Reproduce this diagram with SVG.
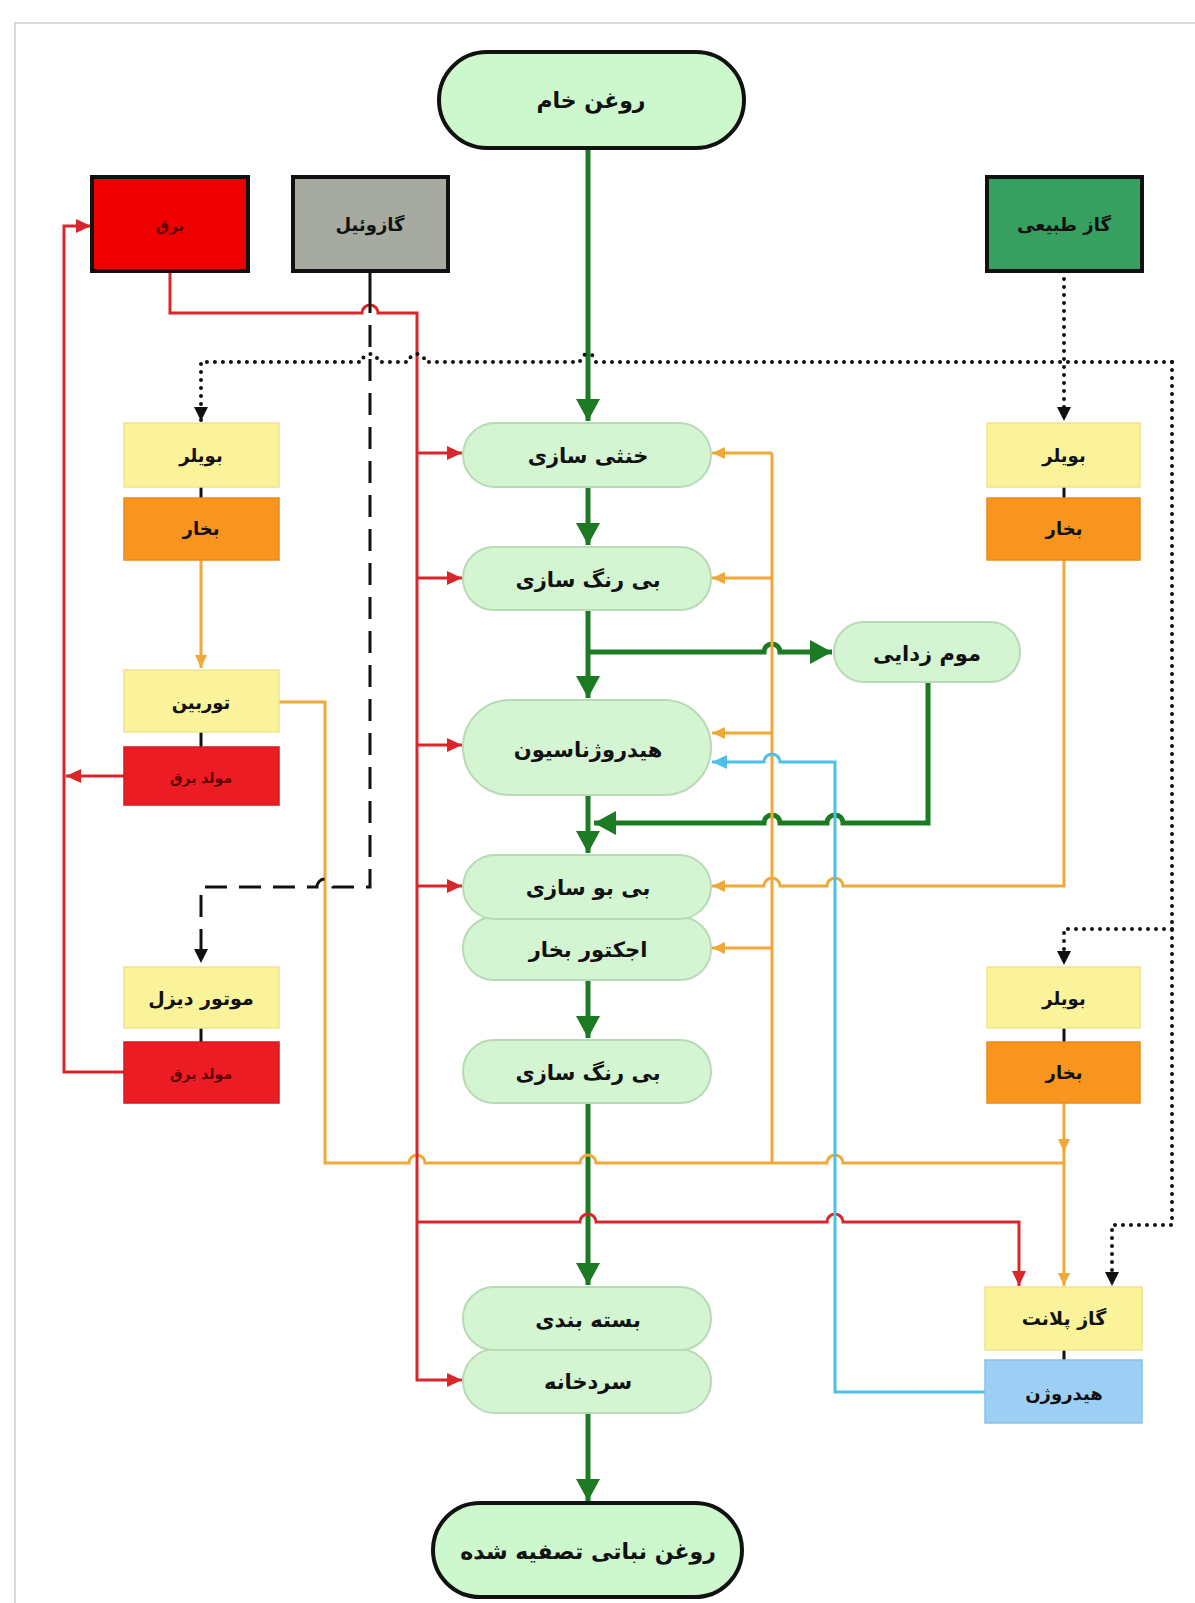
<svg xmlns="http://www.w3.org/2000/svg" width="1195" height="1603" viewBox="0 0 1195 1603">
<style>
  .t { font-family: "DejaVu Sans", "Noto Sans", sans-serif; font-weight: bold; text-anchor: middle; dominant-baseline: central; fill: #111; }
  .pill { fill: #d3f5d1; stroke: #b9d9b7; stroke-width: 2; }
  .term { fill: #cdf7cc; stroke: #111; stroke-width: 4; }
  .yel { fill: #fbf39a; stroke: #efe48e; stroke-width: 1.5; }
  .org { fill: #f7951e; stroke: #eb8a16; stroke-width: 1.5; }
  .red { fill: #ec1c24; stroke: #d41a20; stroke-width: 1.5; }
  .blu { fill: #9dcff4; stroke: #8cc0e8; stroke-width: 1.5; }
  .g { fill: none; stroke: #1c7a22; stroke-width: 5; }
  .o { fill: none; stroke: #f0a838; stroke-width: 3; }
  .r { fill: none; stroke: #d8262b; stroke-width: 3; }
  .b { fill: none; stroke: #4cc0e6; stroke-width: 3; }
  .k { fill: none; stroke: #111; stroke-width: 3; }
  .kd { fill: none; stroke: #111; stroke-width: 3; stroke-dasharray: 22 12; }
  .kt { fill: none; stroke: #111; stroke-width: 4; stroke-dasharray: 0 8; stroke-linecap: round; }
</style>
<defs>
  <marker id="ag" markerUnits="userSpaceOnUse" markerWidth="26" markerHeight="26" refX="22" refY="12" orient="auto"><path d="M0,0 L22,12 L0,24 z" fill="#1c7a22"/></marker>
  <marker id="ar" markerUnits="userSpaceOnUse" markerWidth="18" markerHeight="16" refX="15" refY="7" orient="auto"><path d="M0,0 L15,7 L0,14 z" fill="#d8262b"/></marker>
  <marker id="ao" markerUnits="userSpaceOnUse" markerWidth="16" markerHeight="14" refX="13" refY="6" orient="auto"><path d="M0,0 L13,6 L0,12 z" fill="#f0a838"/></marker>
  <marker id="ab" markerUnits="userSpaceOnUse" markerWidth="18" markerHeight="16" refX="15" refY="7" orient="auto"><path d="M0,0 L15,7 L0,14 z" fill="#4cc0e6"/></marker>
  <marker id="ak" markerUnits="userSpaceOnUse" markerWidth="18" markerHeight="16" refX="14" refY="7" orient="auto"><path d="M0,0 L14,7 L0,14 z" fill="#111"/></marker>
</defs>
<rect width="1195" height="1603" fill="#ffffff"/>
<path d="M15,1603 V23 H1195" fill="none" stroke="#d9d9d9" stroke-width="2"/>

<g id="connectors">
  <!-- green main flow -->
  <path class="g" d="M588,148 V421" marker-end="url(#ag)"/>
  <path class="g" d="M588,487 V545" marker-end="url(#ag)"/>
  <path class="g" d="M588,610 V698" marker-end="url(#ag)"/>
  <path class="g" d="M588,652 H764 A8 8 0 0 1 780,652 H832" marker-end="url(#ag)"/>
  <path class="g" d="M588,795 V853" marker-end="url(#ag)"/>
  <path class="g" d="M928,682 V823 H843 A8 8 0 0 0 827,823 H780 A8 8 0 0 0 764,823 H594" marker-end="url(#ag)"/>
  <path class="g" d="M588,980 V1038" marker-end="url(#ag)"/>
  <path class="g" d="M588,1103 V1285" marker-end="url(#ag)"/>
  <path class="g" d="M588,1413 V1501" marker-end="url(#ag)"/>

  <!-- orange steam -->
  <path class="o" d="M772,453 V1163"/>
  <path class="o" d="M772,453 H712" marker-end="url(#ao)"/>
  <path class="o" d="M772,578 H712" marker-end="url(#ao)"/>
  <path class="o" d="M772,733 H712" marker-end="url(#ao)"/>
  <path class="o" d="M772,948 H712" marker-end="url(#ao)"/>
  <path class="o" d="M1064,560 V886 H843 A8 8 0 0 0 827,886 H780 A8 8 0 0 0 764,886 H712" marker-end="url(#ao)"/>
  <path class="o" d="M201,560 V668" marker-end="url(#ao)"/>
  <path class="o" d="M279,702 H325 V1163 H409 A8 8 0 0 1 425,1163 H580 A8 8 0 0 1 596,1163 H827 A8 8 0 0 1 843,1163 H1064"/>
  <path class="o" d="M1064,1103 V1152" marker-end="url(#ao)"/>
  <path class="o" d="M1064,1150 V1286" marker-end="url(#ao)"/>

  <!-- red electricity -->
  <path class="r" d="M170,271 V313 H362 A8 8 0 0 1 378,313 H417 V1380 H462" marker-end="url(#ar)"/>
  <path class="r" d="M417,453 H462" marker-end="url(#ar)"/>
  <path class="r" d="M417,578 H462" marker-end="url(#ar)"/>
  <path class="r" d="M417,745 H462" marker-end="url(#ar)"/>
  <path class="r" d="M417,886 H462" marker-end="url(#ar)"/>
  <path class="r" d="M417,1222 H580 A8 8 0 0 1 596,1222 H827 A8 8 0 0 1 843,1222 H1019 V1286" marker-end="url(#ar)"/>
  <path class="r" d="M124,1072 H64 V226 H91" marker-end="url(#ar)"/>
  <path class="r" d="M124,776 H66" marker-end="url(#ar)"/>

  <!-- gasoil dashed -->
  <path class="k" d="M370,271 V313"/>
  <path class="kd" d="M370,325 V887 H333 A8 8 0 0 0 317,887 H201 V963" marker-end="url(#ak)"/>

  <!-- natural gas dotted -->
  <path class="kt" d="M1064,271 V421" marker-end="url(#ak)"/>
  <path class="kt" d="M1172,362 H596 A8 8 0 0 0 580,362 H425 A8 8 0 0 0 409,362 H378 A8 8 0 0 0 362,362 H201 V421" marker-end="url(#ak)"/>
  <path class="kt" d="M1172,362 V1225 H1112 V1286" marker-end="url(#ak)"/>
  <path class="kt" d="M1172,929 H1064 V965" marker-end="url(#ak)"/>

  <!-- hydrogen -->
  <path class="b" d="M985,1392 H835 V762 H780 A8 8 0 0 0 764,762 H712" marker-end="url(#ab)"/>

  <!-- stack links -->
  <path class="k" d="M201,487 V498 M201,732 V747 M201,1028 V1042 M1064,487 V498 M1064,1028 V1042 M1064,1350 V1360"/>
</g>

<g id="n-crude"><rect class="term" x="439" y="52" width="305" height="96" rx="48"/><text class="t" x="591" y="100" font-size="22">روغن خام</text></g>
<g id="n-power"><rect x="92" y="177" width="156" height="94" fill="#ee0000" stroke="#111" stroke-width="4"/><text class="t" x="170" y="226" font-size="15" fill="#5a0000" style="fill:#5a0000">برق</text></g>
<g id="n-gasoil"><rect x="293" y="177" width="155" height="94" fill="#a6aaa0" stroke="#111" stroke-width="4"/><text class="t" x="370" y="224" font-size="18">گازوئیل</text></g>
<g id="n-natgas"><rect x="987" y="177" width="155" height="94" fill="#37a060" stroke="#111" stroke-width="4"/><text class="t" x="1064" y="224" font-size="18">گاز طبیعی</text></g>

<g id="n-boiler-l"><rect class="yel" x="124" y="423" width="155" height="64"/><text class="t" x="201" y="455" font-size="18">بویلر</text></g>
<g id="n-steam-l"><rect class="org" x="124" y="498" width="155" height="62"/><text class="t" x="201" y="528" font-size="18">بخار</text></g>
<g id="n-turbine"><rect class="yel" x="124" y="670" width="155" height="62"/><text class="t" x="201" y="702" font-size="18">توربین</text></g>
<g id="n-gen1"><rect class="red" x="124" y="747" width="155" height="58"/><text class="t" x="201" y="778" font-size="14" style="fill:#5a0000">مولد برق</text></g>
<g id="n-diesel"><rect class="yel" x="124" y="967" width="155" height="61"/><text class="t" x="201" y="998" font-size="19">موتور دیزل</text></g>
<g id="n-gen2"><rect class="red" x="124" y="1042" width="155" height="61"/><text class="t" x="201" y="1074" font-size="14" style="fill:#5a0000">مولد برق</text></g>

<g id="n-boiler-r1"><rect class="yel" x="987" y="423" width="153" height="64"/><text class="t" x="1064" y="455" font-size="18">بویلر</text></g>
<g id="n-steam-r1"><rect class="org" x="987" y="498" width="153" height="62"/><text class="t" x="1064" y="528" font-size="18">بخار</text></g>
<g id="n-boiler-r2"><rect class="yel" x="987" y="967" width="153" height="61"/><text class="t" x="1064" y="998" font-size="18">بویلر</text></g>
<g id="n-steam-r2"><rect class="org" x="987" y="1042" width="153" height="61"/><text class="t" x="1064" y="1072" font-size="18">بخار</text></g>
<g id="n-gasplant"><rect class="yel" x="985" y="1287" width="157" height="63"/><text class="t" x="1064" y="1318" font-size="19">گاز پلانت</text></g>
<g id="n-hydrogen"><rect class="blu" x="985" y="1360" width="157" height="63"/><text class="t" x="1064" y="1393" font-size="18">هیدروژن</text></g>

<g id="n-neutral"><rect class="pill" x="463" y="423" width="248" height="64" rx="32"/><text class="t" x="588" y="456" font-size="21">خنثی سازی</text></g>
<g id="n-bleach1"><rect class="pill" x="463" y="547" width="248" height="63" rx="31"/><text class="t" x="588" y="580" font-size="21">بی رنگ سازی</text></g>
<g id="n-dewax"><rect class="pill" x="834" y="622" width="186" height="60" rx="30"/><text class="t" x="927" y="654" font-size="21">موم زدایی</text></g>
<g id="n-hydro"><rect class="pill" x="463" y="700" width="248" height="95" rx="47"/><text class="t" x="588" y="750" font-size="21">هیدروژناسیون</text></g>
<g id="n-ejector"><rect class="pill" x="463" y="917" width="248" height="63" rx="31"/><text class="t" x="588" y="950" font-size="21">اجکتور بخار</text></g>
<g id="n-deodor"><rect class="pill" x="463" y="855" width="248" height="64" rx="32"/><text class="t" x="588" y="888" font-size="21">بی بو سازی</text></g>
<g id="n-bleach2"><rect class="pill" x="463" y="1040" width="248" height="63" rx="31"/><text class="t" x="588" y="1073" font-size="21">بی رنگ سازی</text></g>
<g id="n-cold"><rect class="pill" x="463" y="1349" width="248" height="64" rx="32"/><text class="t" x="588" y="1382" font-size="21">سردخانه</text></g>
<g id="n-pack"><rect class="pill" x="463" y="1287" width="248" height="63" rx="31"/><text class="t" x="588" y="1320" font-size="21">بسته بندی</text></g>
<g id="n-final"><rect class="term" x="433" y="1503" width="309" height="94" rx="47"/><text class="t" x="588" y="1551" font-size="22">روغن نباتی تصفیه شده</text></g>
</svg>
